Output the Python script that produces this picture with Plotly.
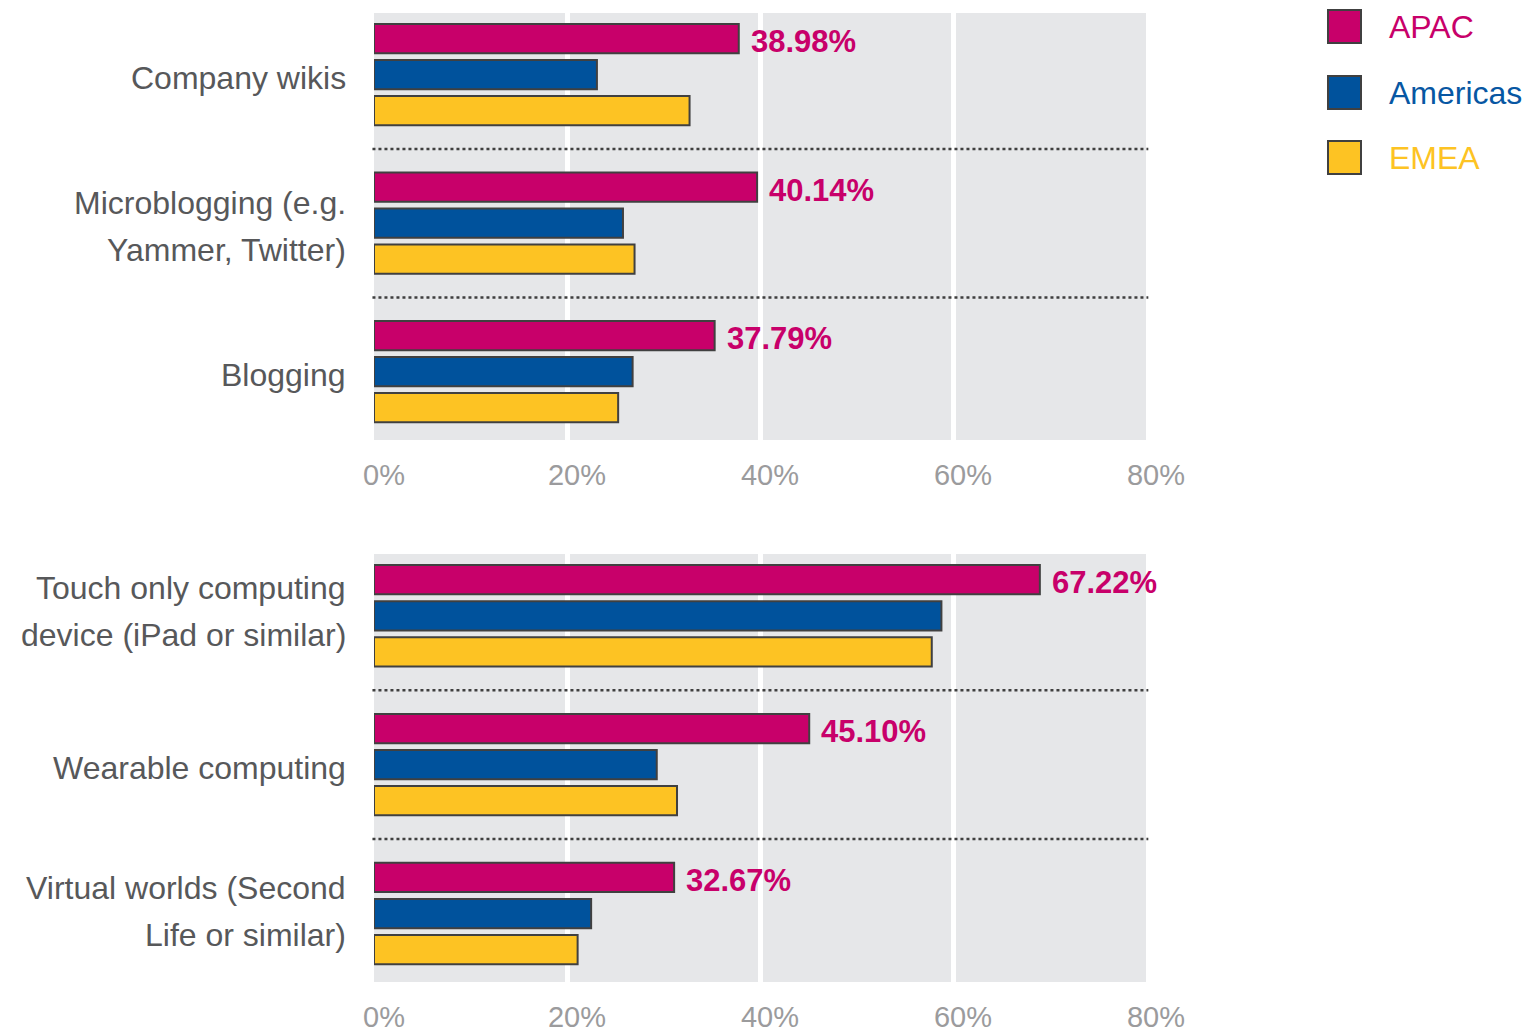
import plotly.graph_objects as go

# ---------------- data ----------------
series = ["APAC", "Americas", "EMEA"]
bar_colors = ["#C8006A", "#00529C", "#FDC323"]
legend_text_colors = ["#C8006A", "#0757A3", "#FDC323"]

cats_top = ["Company wikis", "Microblogging (e.g.<br>Yammer, Twitter)", "Blogging"]
apac_top = [37.8, 39.7, 35.3]
americas_top = [23.1, 25.8, 26.8]
emea_top = [32.7, 27.0, 25.3]
apac_top_labels = ["38.98%", "40.14%", "37.79%"]

cats_bottom = ["Touch only computing<br>device (iPad or similar)", "Wearable computing",
               "Virtual worlds (Second<br>Life or similar)"]
apac_bottom = [69.0, 45.1, 31.1]
americas_bottom = [58.8, 29.3, 22.5]
emea_bottom = [57.8, 31.4, 21.1]
apac_bottom_labels = ["67.22%", "45.10%", "32.67%"]

x_ticks = [0, 20, 40, 60, 80]
x_tick_labels = ["0%", "20%", "40%", "60%", "80%"]

# ---------------- layout constants ----------------
W, H = 1533, 1033
ML, MR = 374, 1533 - 1146
FONT = "Liberation Sans, Arial, Helvetica, sans-serif"
OUTLINE = "#404040"
BARGAP = 0.273
BARGROUPGAP = 0.19
SLOT = (1 - BARGAP) / 3
# small vertical nudges (px) of category labels, per panel and category index
LABEL_NUDGE = [[0, 0, 0], [7, 0, 5]]

def px_x(px):
    return (px - ML) / (W - ML - MR)

def px_y(py):
    return 1 - py / H

fig = go.Figure()

panels = [
    ("x", "y", cats_top, [apac_top, americas_top, emea_top], apac_top_labels),
    ("x2", "y2", cats_bottom, [apac_bottom, americas_bottom, emea_bottom], apac_bottom_labels),
]

annotations = []
shapes = []

for p, (xa, ya, cats, vals, labels) in enumerate(panels):
    for s, v, c in zip(series, vals, bar_colors):
        fig.add_trace(go.Bar(
            orientation="h", x=v, y=cats, name=s,
            marker=dict(color=c, line=dict(color=OUTLINE, width=2)),
            xaxis=xa, yaxis=ya, showlegend=False, hoverinfo="x+y+name",
        ))
    # category labels (right aligned, generous line spacing)
    xref_dom = xa + " domain"
    for i, cat in enumerate(cats):
        lines = cat.split("<br>")
        n = len(lines)
        for j, ln in enumerate(lines):
            annotations.append(dict(
                x=0, xref=xref_dom, y=i, yref=ya, text=ln, showarrow=False,
                xanchor="right", yanchor="middle", xshift=-26,
                yshift=((n - 1) / 2 - j) * 47 - 3 + LABEL_NUDGE[p][i],
                font=dict(family=FONT, size=32, color="#57585A"),
            ))
    # value labels for APAC
    for i, (v, lab) in enumerate(zip(vals[0], labels)):
        annotations.append(dict(
            x=v, xref=xa, y=i - SLOT, yref=ya, text=lab, showarrow=False,
            xanchor="left", yanchor="middle", xshift=10, yshift=-3,
            font=dict(family=FONT, size=31, color="#C8006A", weight="bold"),
        ))
    # dotted separators
    for k in range(len(cats) - 1):
        shapes.append(dict(
            type="line", xref=xref_dom, x0=-0.002, x1=1.003, yref=ya,
            y0=k + 0.5, y1=k + 0.5,
            line=dict(color="#3F3F3F", width=2.5, dash="dot"),
        ))

# manual legend
legend_rows = [(10, 43), (76, 109), (141, 174)]
for (t, b), s, c, tc in zip(legend_rows, series, bar_colors, legend_text_colors):
    shapes.append(dict(
        type="rect", xref="paper", yref="paper",
        x0=px_x(1328), x1=px_x(1361), y0=px_y(b), y1=px_y(t),
        fillcolor=c, line=dict(color=OUTLINE, width=2),
    ))
    annotations.append(dict(
        x=px_x(1387), xref="paper", y=px_y((t + b) / 2), yref="paper",
        text=s, showarrow=False, xanchor="left", yanchor="middle",
        font=dict(family=FONT, size=32, color=tc),
    ))

xaxis_common = dict(
    range=[0, 80], tickvals=x_ticks, ticktext=x_tick_labels,
    showgrid=True, gridcolor="white", gridwidth=5, zeroline=False,
    showline=False, ticks="", automargin=False,
    tickfont=dict(family=FONT, size=29, color="#9B9B9D"),
    ticklabelshift=10, ticklabelstandoff=15, fixedrange=True,
)
yaxis_common = dict(
    showgrid=False, zeroline=False, showticklabels=False, ticks="",
    range=[2.46, -0.415], automargin=False, fixedrange=True,
)

fig.update_layout(
    width=W, height=H,
    margin=dict(l=ML, r=MR, t=0, b=0, pad=0),
    paper_bgcolor="white", plot_bgcolor="#E6E7E9",
    barmode="group", bargap=BARGAP, bargroupgap=BARGROUPGAP,
    showlegend=False,
    font=dict(family=FONT),
    xaxis=dict(**xaxis_common, anchor="y", domain=[0, 1]),
    yaxis=dict(**yaxis_common, anchor="x", domain=[px_y(440), px_y(13)],
               categoryorder="array", categoryarray=cats_top),
    xaxis2=dict(**xaxis_common, anchor="y2", domain=[0, 1]),
    yaxis2=dict(**yaxis_common, anchor="x2", domain=[px_y(982), px_y(554)],
                categoryorder="array", categoryarray=cats_bottom),
    annotations=annotations,
    shapes=shapes,
)

fig.write_html("out.html")
